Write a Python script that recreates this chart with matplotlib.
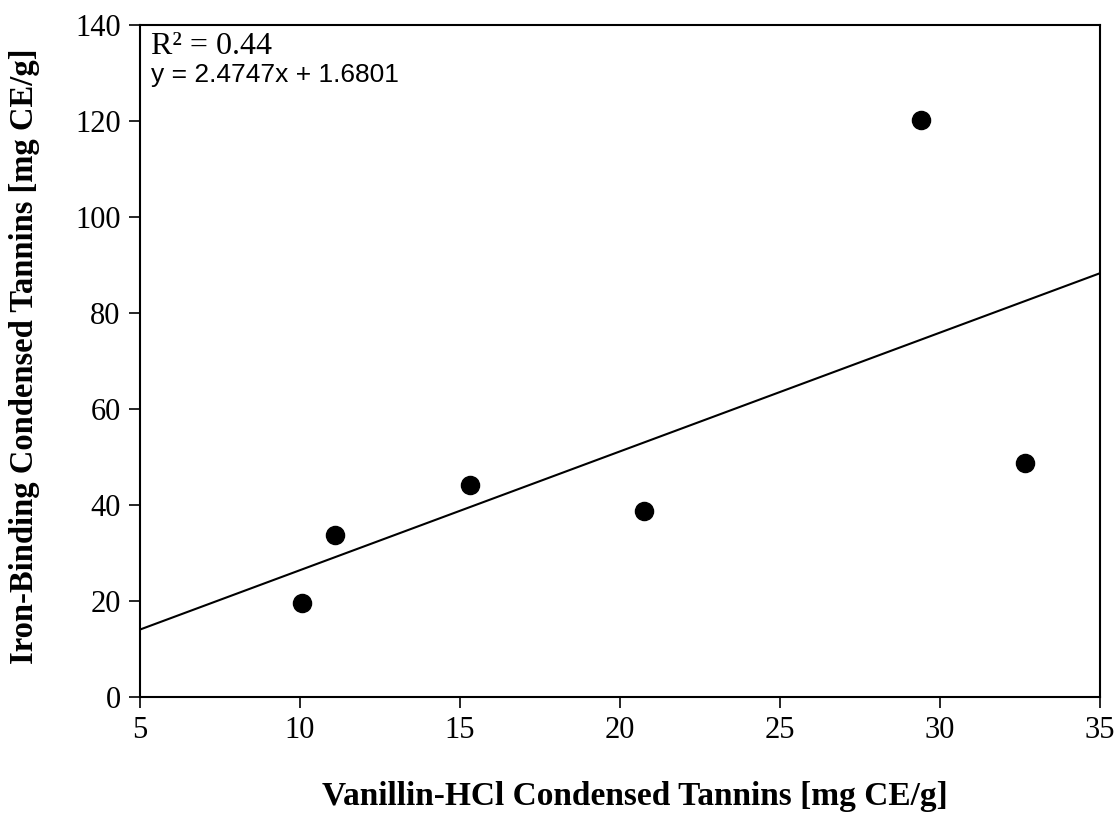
import matplotlib.pyplot as plt
import numpy as np

# Vanillin-HCl vs iron-binding condensed tannins
vanillin = [10.05, 11.1, 15.3, 20.75, 29.4, 32.65]
iron_binding = [19.6, 33.8, 44.1, 38.8, 120.2, 48.8]
slope = 2.4747
intercept = 1.6801
r_squared = 0.44

x_ticks = [5, 10, 15, 20, 25, 30, 35]
y_ticks = [0, 20, 40, 60, 80, 100, 120, 140]

fig = plt.figure(figsize=(11.18, 8.18), dpi=100)
ax = fig.add_axes([0.1252, 0.1479, 0.8587, 0.8215])

line_x = np.array([x_ticks[0], x_ticks[-1]])
ax.plot(line_x, slope * line_x + intercept, color="black", linewidth=1.5)
ax.scatter(vanillin, iron_binding, s=170, color="black", zorder=3)

ax.set_xlim(x_ticks[0], x_ticks[-1])
ax.set_ylim(y_ticks[0], y_ticks[-1])
ax.set_xticks(x_ticks)
ax.set_yticks(y_ticks)
ax.tick_params(direction="out", length=8, width=1.2, labelsize=22, pad=6)
for label in ax.get_xticklabels() + ax.get_yticklabels():
    label.set_fontfamily("Liberation Serif")
for spine in ax.spines.values():
    spine.set_linewidth(1.5)

ax.set_xlabel("Vanillin-HCl Condensed Tannins [mg CE/g]", fontsize=24,
              fontweight="bold", family="Liberation Serif")
ax.set_ylabel("Iron-Binding Condensed Tannins [mg CE/g]", fontsize=23.5,
              fontweight="bold", family="Liberation Serif")
ax.xaxis.set_label_coords(0.515, -0.148)
ax.yaxis.set_label_coords(-0.12, 0.507)
ax.xaxis.label.set_va("center")
ax.yaxis.label.set_va("center")

ax.text(0.012, 0.99, f"R² = {r_squared:.2f}", transform=ax.transAxes,
        fontsize=23, family="Liberation Serif", va="top", ha="left")
ax.text(0.012, 0.943, f"y = {slope}x + {intercept}", transform=ax.transAxes,
        fontsize=19, family="Liberation Sans", va="top", ha="left")

plt.savefig("out.png", dpi=100)
